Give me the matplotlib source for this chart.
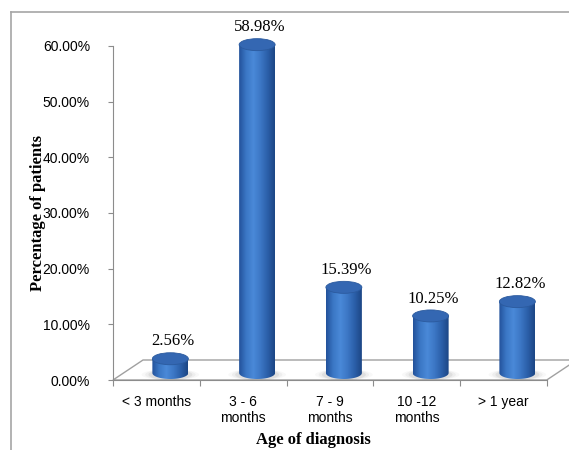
import matplotlib.pyplot as plt
import numpy as np
from matplotlib.colors import LinearSegmentedColormap
from matplotlib.patches import Ellipse, Polygon
from matplotlib.lines import Line2D

categories = ['< 3 months', '3 - 6\nmonths', '7 - 9\nmonths', '10 -12\nmonths', '> 1 year']
percent = [2.56, 58.98, 15.39, 10.25, 12.82]
y_ticks = [0, 10, 20, 30, 40, 50, 60]

W, H = 569, 450
fig = plt.figure(figsize=(W / 100, H / 100), dpi=100)
fig.patch.set_facecolor('white')

# axes placed in pixels: front-left corner of floor at (113, 380)
px_per_cat = 86.75
px_per_pct = 5.567
ax_l, ax_b = 113, H - 380
xmax = -0.5 + (W - ax_l) / px_per_cat
ymax = 66
ax = fig.add_axes([ax_l / W, ax_b / H, (W - ax_l) / W, ymax * px_per_pct / H])
ax.set_xlim(-0.5, xmax)
ax.set_ylim(0, ymax)
ax.patch.set_alpha(0)

grey = '#8c8c8c'
for s in ['top', 'right']:
    ax.spines[s].set_visible(False)
ax.spines['left'].set_bounds(0, 60)
ax.spines['bottom'].set_bounds(-0.5, 4.5)
ax.spines['left'].set_color(grey)
ax.spines['bottom'].set_color(grey)

ax.set_yticks(y_ticks)
ax.set_yticklabels([f'{t:.2f}%' for t in y_ticks])
ax.tick_params(axis='y', length=3.6, color=grey, pad=13, labelsize=10)
for lab in ax.get_yticklabels():
    lab.set_family('Liberation Sans')

n = len(categories)
ax.set_xticks(np.arange(n + 1) - 0.5)
ax.set_xticklabels([])
ax.set_xticks(np.arange(n), minor=True)
ax.set_xticklabels(categories, minor=True, family='Liberation Sans', fontsize=10)
ax.tick_params(axis='x', which='major', length=4.5, color=grey)
ax.tick_params(axis='x', which='minor', length=0, pad=11)

# floor of the 3d plot
fdx, fdy = 30 / px_per_cat, 20 / px_per_pct
floor = Polygon([(-0.5, 0), (n - 0.5, 0), (n - 0.5 + fdx, fdy), (-0.5 + fdx, fdy)],
                closed=True, facecolor='white', edgecolor='#a0a0a0', lw=1, zorder=1,
                clip_on=False)
ax.add_patch(floor)

# cylinders
dx, dy = 14 / px_per_cat, 7 / px_per_pct
cw = 36 / px_per_cat
eh = 12 / px_per_pct
cmap = LinearSegmentedColormap.from_list(
    'cyl', ['#22519a', '#3b77c5', '#4a89d8', '#3c77c5', '#2b5fa9', '#1c4684'])
grad = np.linspace(0, 1, 256).reshape(1, -1)

for i, v in enumerate(percent):
    cx = i + dx
    base = dy
    top = v + dy

    # soft shadow on the floor
    for k, a in zip([1.6, 1.4, 1.22], [0.04, 0.06, 0.09]):
        ax.add_patch(Ellipse((cx, base - 0.3), cw * k, eh * 0.9,
                             facecolor='#505050', edgecolor='none', alpha=a,
                             zorder=2, clip_on=False))

    t = np.linspace(np.pi, 2 * np.pi, 60)
    pts = np.column_stack([cx + cw / 2 * np.cos(t), base + eh / 2 * np.sin(t)])
    pts = np.vstack([pts, [[cx + cw / 2, top], [cx - cw / 2, top]]])
    clip = Polygon(pts, closed=True, transform=ax.transData)
    im = ax.imshow(grad, extent=[cx - cw / 2, cx + cw / 2, base - eh / 2, top],
                   aspect='auto', cmap=cmap, zorder=3, interpolation='bilinear')
    im.set_clip_path(clip)

    ax.add_patch(Ellipse((cx, top), cw, eh, facecolor='#3467b2',
                         edgecolor='#2b5a9e', lw=0.6, zorder=4))

    ax.text(cx + 0.03, top + 3.1, f'{v:.2f}%', ha='center', va='center',
            family='Liberation Serif', fontsize=12, zorder=5)

ax.set_xlim(-0.5, xmax)
ax.set_ylim(0, ymax)

fig.text(38 / W, 1 - 213 / H, 'Percentage of patients', rotation=90,
         ha='center', va='center', family='Liberation Serif',
         fontweight='bold', fontsize=12)
fig.text(313 / W, 1 - 440 / H, 'Age of diagnosis', ha='center', va='center',
         family='Liberation Serif', fontweight='bold', fontsize=12)

# outer frame, only its top and left edges fall inside the image
bx, by = 11 / W, 1 - 12 / H
fig.add_artist(Line2D([bx, bx], [0, by], transform=fig.transFigure,
                      color='#a6a6a6', lw=1.2))
fig.add_artist(Line2D([bx, 1], [by, by], transform=fig.transFigure,
                      color='#a6a6a6', lw=1.2))

fig.savefig('out.png', dpi=100)
